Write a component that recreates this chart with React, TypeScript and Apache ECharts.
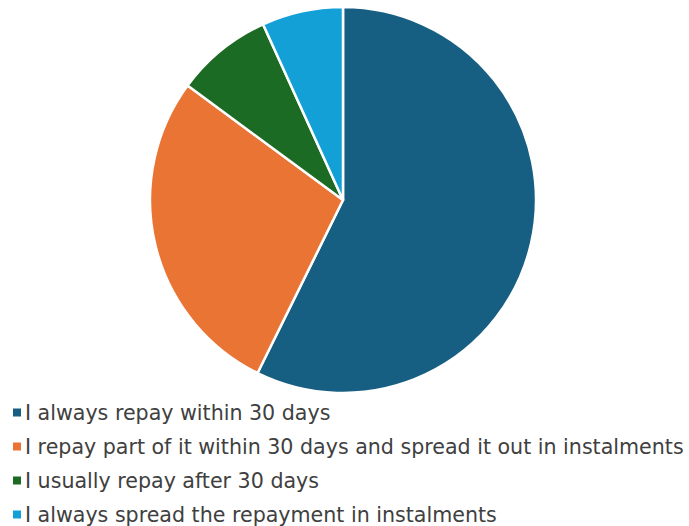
import React, { useEffect, useRef } from "react";
import * as echarts from "echarts";

const categories = [
  "I always repay within 30 days",
  "I repay part of it within 30 days and spread it out in instalments",
  "I usually repay after 30 days",
  "I always spread the repayment in instalments",
];
const values = [57.3, 27.8, 8.1, 6.8];
const colors = ["#175f82", "#e97434", "#1c6b24", "#12a0d7"];

export default function App() {
  const ref = useRef<HTMLDivElement>(null);
  useEffect(() => {
    const chart = echarts.init(ref.current!, null, { renderer: "svg" });
    chart.setOption({
      animation: false,
      color: colors,
      legend: {
        orient: "vertical",
        left: 11,
        top: 402,
        height: 160,
        width: 689,
        padding: 0,
        icon: "rect",
        itemWidth: 10,
        itemHeight: 10,
        itemGap: 13,
        textStyle: { fontSize: 20.6, lineHeight: 20, color: "#404040", fontFamily: "DejaVu Sans", padding: [0, 0, 0, -2] },
        data: categories,
      },
      series: [
        {
          type: "pie",
          center: [343, 200],
          radius: 193,
          startAngle: 90,
          clockwise: true,
          label: { show: false },
          labelLine: { show: false },
          itemStyle: { borderColor: "#ffffff", borderWidth: 2.5 },
          data: categories.map((c, i) => ({ name: c, value: values[i] })),
        },
      ],
    });
    return () => chart.dispose();
  }, []);
  return (
    <div
      ref={ref}
      style={{ position: "absolute", left: 0, top: 0, width: 689, height: 526 }}
    />
  );
}
